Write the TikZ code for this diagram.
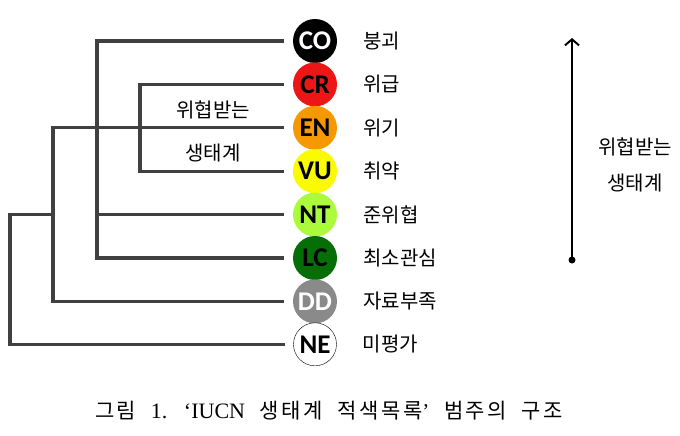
\documentclass[tikz,border=0pt]{standalone}
\usepackage{fontspec}
\usepackage{xcolor}
\usetikzlibrary{arrows.meta,positioning}

\newfontfamily\kr{Noto Sans CJK KR}
\newfontfamily\capkr[LetterSpace=12]{Noto Sans CJK KR}
\newfontfamily\badgefont{Carlito}
\newfontfamily\capserif{Liberation Serif}

\definecolor{crRed}{RGB}{236,22,22}
\definecolor{enOrange}{RGB}{246,152,0}
\definecolor{vuYellow}{RGB}{250,250,0}
\definecolor{ntGreen}{RGB}{172,250,60}
\definecolor{lcGreen}{RGB}{6,110,6}
\definecolor{ddGray}{RGB}{138,138,138}
\definecolor{treeGray}{RGB}{64,64,64}

\begin{document}
\begin{tikzpicture}[
			x=1pt, y=-1pt,
			branch/.style={line width=3.3pt, draw=treeGray, line cap=rect, shorten >=10pt},
			badge/.style={circle, minimum size=44pt, inner sep=0pt, font=\badgefont\bfseries\fontsize{27}{27}\selectfont},
			catname/.style={right=26pt of #1, inner sep=0pt, font=\kr\fontsize{20}{22}\selectfont},
			]
			\useasboundingbox (0,0) rectangle (680,436);
			% Categories
			\node[badge, fill=black, text=white] (co) at (315,41) {CO};
			\node[badge, fill=crRed, below=-1pt of co] (cr) {CR};
			\node[badge, fill=enOrange, below=-1pt of cr] (en) {EN};
			\node[badge, fill=vuYellow, below=-1pt of en] (vu) {VU};
			\node[badge, fill=ntGreen, below=-1pt of vu] (nt) {NT};
			\node[badge, fill=lcGreen, below=-1pt of nt] (lc) {LC};
			\node[badge, fill=ddGray, text=white, below=-1pt of lc] (dd) {DD};
			\node[badge, draw=black, fill=white, thin, minimum size=43pt, below=-1pt of dd] (ne) {NE};
			% Names
			\node[catname=co] (co-txt) {붕괴};
			\node[catname=cr] (cr-txt) {위급};
			\node[catname=en] (en-txt) {위기};
			\node[catname=vu] (vu-txt) {취약};
			\node[catname=nt] (nt-txt) {준위협};
			\node[catname=lc] (lc-txt) {최소관심};
			\node[catname=dd] (dd-txt) {자료부족};
			\node[catname=ne] (ne-txt) {미평가};
			% Tree
			\coordinate (s1) at (10,0);
			\coordinate (s2) at (53,0);
			\coordinate (s3) at (97,0);
			\coordinate (s4) at (140,0);
			\draw[branch, shorten <=10pt] (co.west) -| (s3 |- lc.west) -- (lc.west);
			\draw[branch, shorten <=10pt] (cr.west) -| (s4 |- vu.west) -- (vu.west);
			\draw[branch] (s2 |- en.west) -- (en.west);
			\draw[branch] (s3 |- nt.west) -- (nt.west);
			\draw[branch] (s2 |- en.west) -- (s2 |- dd.west) -- (dd.west);
			\draw[branch] (s2 |- nt.west) -| (s1 |- ne.west) -- (ne.west);
			\node[font=\kr\fontsize{20}{43}\selectfont, align=center] (thr-left) at (213,131) {위협받는\\생태계};
			% Arrow
			\coordinate (arr-lo) at (572,260);
			\coordinate (arr-hi) at (572,38);
			\draw[line width=2pt, -{Straight Barb[length=6pt,width=14pt]}] (arr-lo) -- (arr-hi);
			\fill (arr-lo) circle (3.5pt);
			\node[font=\kr\fontsize{20}{36}\selectfont, align=center] (thr-right) at (635,165) {위협받는\\생태계};
			% Caption
			\node[font=\capkr\fontsize{21}{24}\selectfont] (caption) at (329,411)
				{\spaceskip=0.7em 그림 {\capserif\fontsize{22}{24}\selectfont 1. ‘IUCN} 생태계 적색목록{\capserif ’} 범주의 구조};
		\end{tikzpicture}
\end{document}
